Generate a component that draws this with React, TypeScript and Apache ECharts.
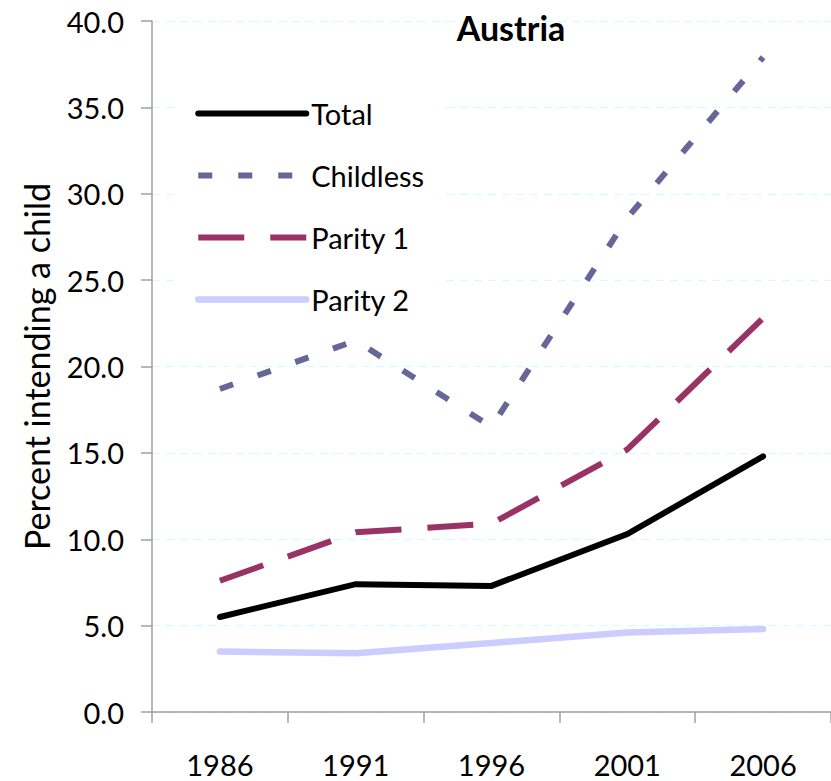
import React, { useEffect, useRef } from "react";
import * as echarts from "echarts";

const years = ["1986", "1991", "1996", "2001", "2006"];
const total = [5.5, 7.4, 7.3, 10.3, 14.8];
const childless = [18.7, 21.5, 16.5, 28.6, 37.9];
const parity1 = [7.6, 10.4, 10.9, 15.2, 22.8];
const parity2 = [3.5, 3.4, 4.0, 4.6, 4.8];
const seriesNames = ["Total", "Childless", "Parity 1", "Parity 2"];

const FONT = "Lato, 'Open Sans', sans-serif";

export default function App() {
  const ref = useRef<HTMLDivElement>(null);
  useEffect(() => {
    if (!ref.current) return;
    const chart = echarts.init(ref.current, undefined, { renderer: "svg" });
    const colors = ["#000000", "#666699", "#993366", "#CCCCFF"];
    const lineStyles = [
      { color: colors[0], width: 6, type: "solid", cap: "round", join: "miter" },
      { color: colors[1], width: 6, type: [14, 26], cap: "butt" },
      { color: colors[2], width: 6, type: [46, 26], cap: "butt" },
      { color: colors[3], width: 6.5, type: "solid", cap: "round" },
    ];
    const dataSets = [total, childless, parity1, parity2];
    chart.setOption({
      animation: false,
      backgroundColor: "#ffffff",
      color: colors,
      textStyle: { fontFamily: FONT },
      title: {
        text: "Austria",
        left: 511,
        textAlign: "center",
        top: 10,
        padding: 0,
        textStyle: { fontFamily: FONT, fontWeight: "bold", fontSize: 34, color: "#000" },
      },
      legend: {
        orient: "vertical",
        left: 175,
        top: 79,
        padding: [20, 15, 20, 20],
        backgroundColor: "#ffffff",
        itemWidth: 108,
        itemHeight: 14,
        itemGap: 33,
        itemStyle: { opacity: 0 },
        textStyle: { fontFamily: FONT, fontSize: 29, color: "#000", lineHeight: 28 },
        data: seriesNames.map((n, i) => ({ name: n, lineStyle: lineStyles[i], itemStyle: { opacity: 0 } })),
      },
      grid: { left: 152, right: -14, top: 21, bottom: 69, containLabel: false },
      xAxis: {
        type: "category",
        data: years,
        boundaryGap: true,
        axisLine: { lineStyle: { color: "#A0A0A0", width: 1.5 } },
        axisTick: { show: true, length: 11, lineStyle: { color: "#A0A0A0", width: 1.5 } },
        axisLabel: { fontFamily: FONT, fontSize: 29, color: "#000", margin: 38 },
        splitLine: { show: false },
      },
      yAxis: {
        type: "value",
        min: 0,
        max: 40,
        interval: 5,
        name: "Percent intending a child",
        nameLocation: "middle",
        nameGap: 99,
        nameTextStyle: { fontFamily: FONT, fontSize: 34, color: "#000" },
        axisLine: { show: true, lineStyle: { color: "#A0A0A0", width: 1.5 } },
        axisTick: { show: true, length: 11, lineStyle: { color: "#A0A0A0", width: 1.5 } },
        axisLabel: {
          fontFamily: FONT,
          fontSize: 29,
          color: "#000",
          margin: 28,
          formatter: (v: number) => v.toFixed(1),
        },
        splitLine: { show: true, lineStyle: { color: "#CCFFFF", width: 1.2, type: [8, 6] } },
      },
      series: seriesNames.map((n, i) => ({
        name: n,
        type: "line",
        data: dataSets[i],
        symbol: "none",
        showSymbol: false,
        itemStyle: { color: colors[i] },
        lineStyle: lineStyles[i],
        z: 2 + (4 - i),
      })),
    });
    return () => chart.dispose();
  }, []);
  return (
    <div
      ref={ref}
      style={{ position: "absolute", left: 0, top: 0, width: 831, height: 781, overflow: "hidden" }}
    />
  );
}
